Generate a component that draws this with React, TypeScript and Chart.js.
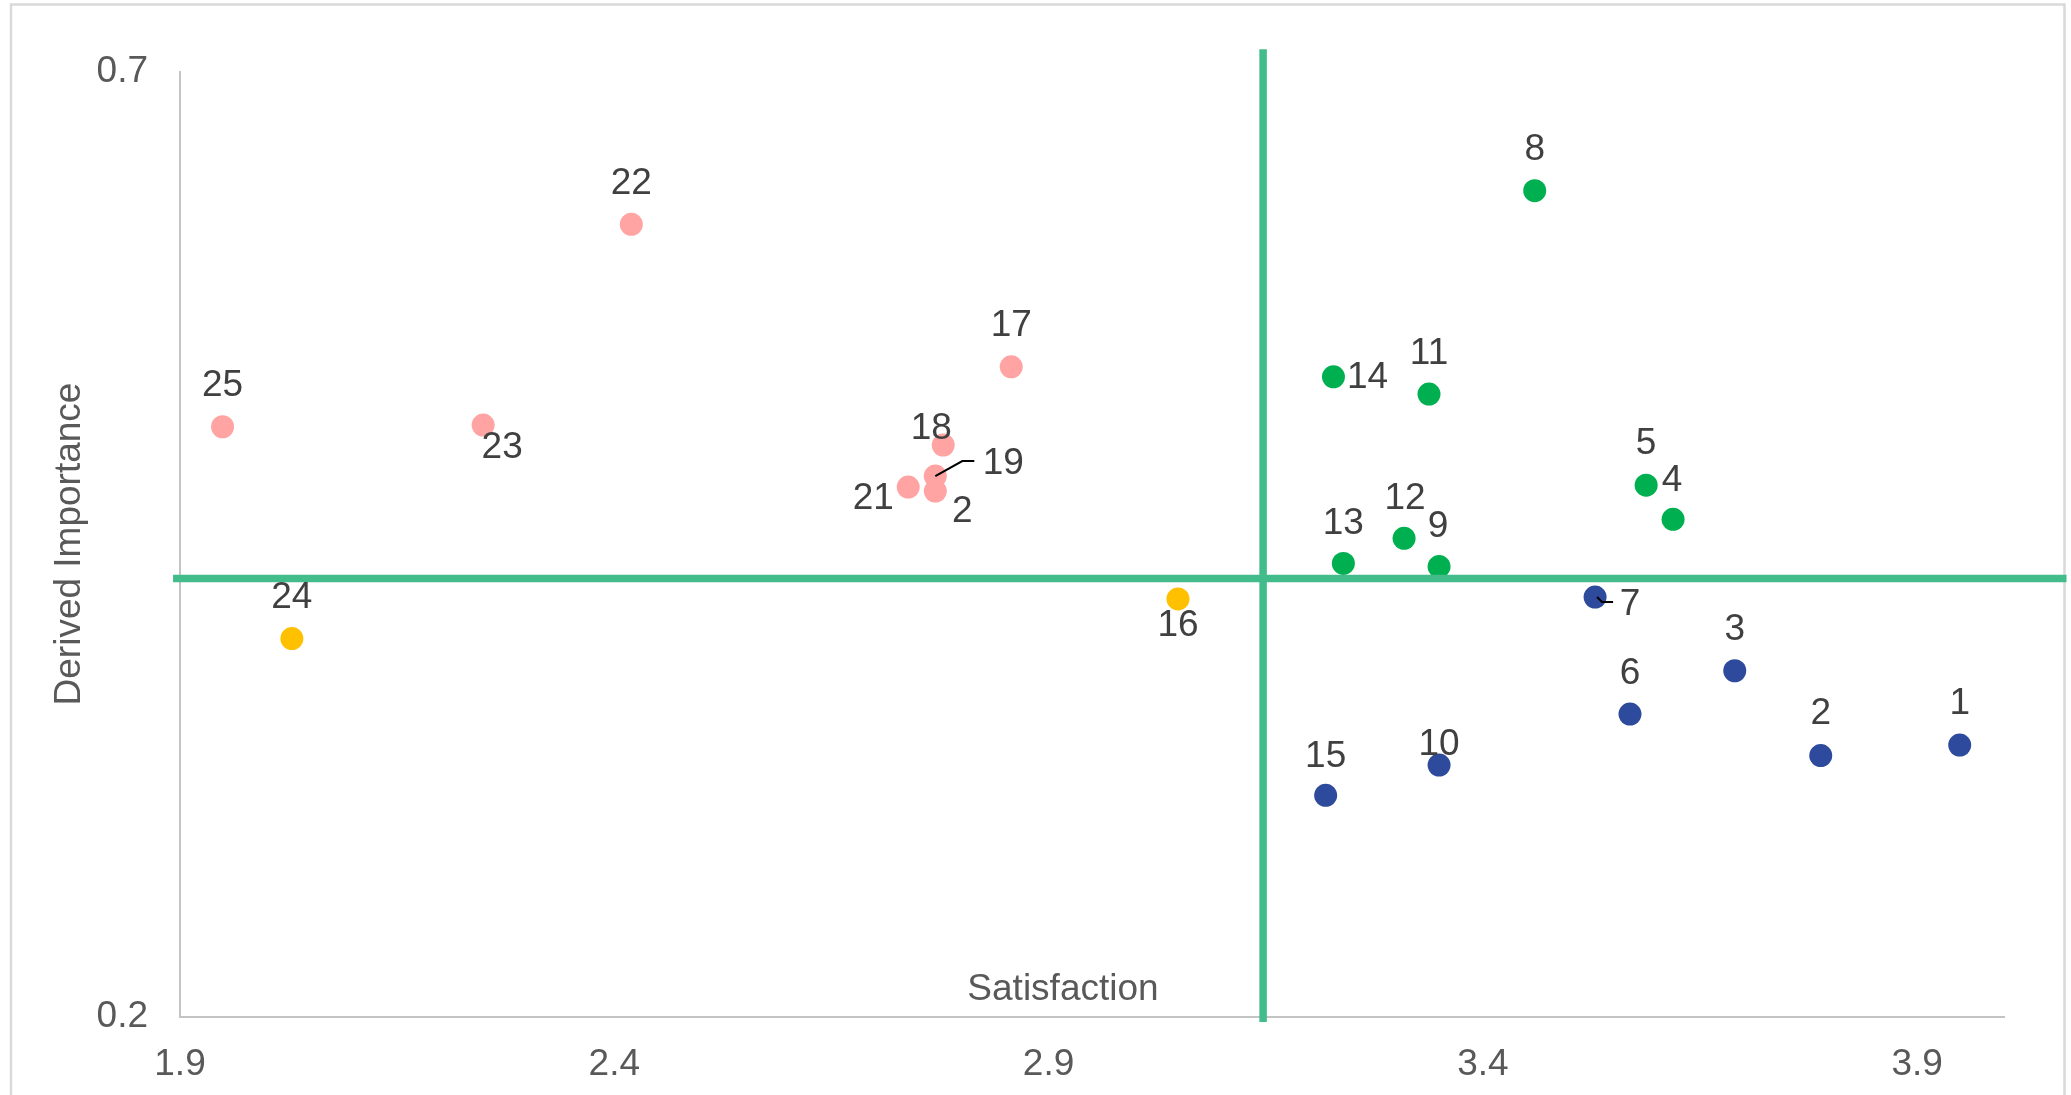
import React, { useEffect, useRef } from 'react';
import { Chart, registerables } from 'chart.js';

Chart.register(...registerables);

// ---------- data ----------
const X_TICKS = [1.9, 2.4, 2.9, 3.4, 3.9];
const Y_TICKS = [0.2, 0.7];
const X_MIN = 1.9;
const X_MAX = 4.0;
const Y_MIN = 0.2;
const Y_MAX = 0.7;

const X_TITLE = 'Satisfaction';
const Y_TITLE = 'Derived Importance';

// pink (low satisfaction, high importance)
const PINK_LABELS = ['22', '17', '25', '23', '18', '19', '2', '21'];
const PINK_X = [2.4196, 2.857, 1.949, 2.249, 2.7787, 2.7696, 2.7696, 2.7384];
const PINK_Y = [0.6194, 0.544, 0.5123, 0.5132, 0.5026, 0.4862, 0.4783, 0.4804];

// yellow (low satisfaction, low importance)
const YELLOW_LABELS = ['24', '16'];
const YELLOW_X = [2.0288, 3.049];
const YELLOW_Y = [0.4002, 0.4212];

// green (high satisfaction, high importance)
const GREEN_LABELS = ['8', '14', '11', '5', '4', '12', '13', '9'];
const GREEN_X = [3.4597, 3.228, 3.338, 3.588, 3.619, 3.3093, 3.2394, 3.3496];
const GREEN_Y = [0.6372, 0.5387, 0.5296, 0.4814, 0.4633, 0.4533, 0.44, 0.4383];

// blue (high satisfaction, low importance)
const BLUE_LABELS = ['7', '3', '6', '2', '1', '10', '15'];
const BLUE_X = [3.5292, 3.69, 3.5694, 3.789, 3.949, 3.3496, 3.219];
const BLUE_Y = [0.4222, 0.3832, 0.3603, 0.3383, 0.3439, 0.3333, 0.3173];

// quadrant dividers
const SAT_THRESHOLD = 3.147;
const IMP_THRESHOLD = 0.432;
const V_LINE_Y = [0.712, 0.1974];
const H_LINE_X = [1.892, 4.072];

// ---------- styles ----------
const FONT = '"Liberation Sans", Arial, sans-serif';
const COLORS = {
  pink: '#FFA3A3',
  yellow: '#FFC000',
  green: '#00B050',
  blue: '#2E4A9C',
  divider: '#43BC8C',
};

// label offsets (px) relative to point centre
const PINK_OFFS = [[0, -41], [0, -41], [0, -41], [19, 23], [-12, -16], [68, -12], [27, 21], [-35, 12]];
const YELLOW_OFFS = [[0, -41], [0, 27]];
const GREEN_OFFS = [[0, -41], [34, 1], [0, -40], [0, -41], [-1, -39], [1, -39], [0, -40], [-1, -40]];
const BLUE_OFFS = [[35, 8], [0, -41], [0, -40], [0, -42], [0, -41], [0, -20], [0, -39]];

// leader lines: [datasetIndex, pointIndex, path]
const LEADERS: [number, number, number[][]][] = [
  [2, 5, [[0, 0], [27, -15], [39, -15]]],
  [5, 0, [[2, 0], [7, 5], [18, 5]]],
];

const toPts = (xs: number[], ys: number[]) => xs.map((x, i) => ({ x, y: ys[i] }));

const decorPlugin = {
  id: 'decor',
  beforeDraw(chart: any) {
    const ctx = chart.ctx;
    ctx.save();
    ctx.fillStyle = '#FFFFFF';
    ctx.fillRect(0, 0, chart.width, chart.height);
    ctx.strokeStyle = '#D9D9D9';
    ctx.lineWidth = 2.5;
    ctx.strokeRect(11, 4.5, 2053.5, 1200);
    ctx.restore();
  },
  afterDatasetsDraw(chart: any) {
    const ctx = chart.ctx;
    ctx.save();
    ctx.font = `37px ${FONT}`;
    ctx.fillStyle = '#404040';
    ctx.textAlign = 'center';
    ctx.textBaseline = 'middle';
    chart.data.datasets.forEach((ds: any, i: number) => {
      if (!ds.pointLabels) return;
      const meta = chart.getDatasetMeta(i);
      meta.data.forEach((pt: any, j: number) => {
        const o = ds.labelOffsets[j];
        ctx.fillText(ds.pointLabels[j], pt.x + o[0], pt.y + o[1]);
      });
    });
    ctx.strokeStyle = '#000000';
    ctx.lineWidth = 2;
    LEADERS.forEach(([di, pi, path]) => {
      const pt = chart.getDatasetMeta(di).data[pi];
      ctx.beginPath();
      path.forEach(([dx, dy], k) => {
        if (k === 0) ctx.moveTo(pt.x + dx, pt.y + dy);
        else ctx.lineTo(pt.x + dx, pt.y + dy);
      });
      ctx.stroke();
    });
    ctx.restore();
  },
  afterDraw(chart: any) {
    const ctx = chart.ctx;
    ctx.save();
    ctx.font = `37px ${FONT}`;
    ctx.fillStyle = '#595959';
    ctx.textAlign = 'center';
    ctx.textBaseline = 'middle';
    ctx.fillText(X_TITLE, 1063, 990);
    ctx.translate(70, 544);
    ctx.rotate(-Math.PI / 2);
    ctx.fillText(Y_TITLE, 0, 0);
    ctx.restore();
  },
};

export default function App() {
  const ref = useRef<HTMLCanvasElement>(null);
  useEffect(() => {
    document.body.style.margin = '0';
    const lineDs = (data: any[]) => ({
      data,
      showLine: true,
      borderColor: COLORS.divider,
      backgroundColor: COLORS.divider,
      borderWidth: 7.5,
      pointRadius: 0,
      clip: false as any,
      borderCapStyle: 'butt',
    });
    const ptDs = (xs: number[], ys: number[], labels: string[], offs: number[][], color: string) => ({
      data: toPts(xs, ys),
      backgroundColor: color,
      borderColor: color,
      borderWidth: 0,
      pointRadius: 11.5,
      clip: false as any,
      pointLabels: labels,
      labelOffsets: offs,
    });
    const chart = new Chart(ref.current!, {
      type: 'scatter',
      data: {
        datasets: [
          lineDs([{ x: SAT_THRESHOLD, y: V_LINE_Y[0] }, { x: SAT_THRESHOLD, y: V_LINE_Y[1] }]),
          lineDs([{ x: H_LINE_X[0], y: IMP_THRESHOLD }, { x: H_LINE_X[1], y: IMP_THRESHOLD }]),
          ptDs(PINK_X, PINK_Y, PINK_LABELS, PINK_OFFS, COLORS.pink),
          ptDs(YELLOW_X, YELLOW_Y, YELLOW_LABELS, YELLOW_OFFS, COLORS.yellow),
          ptDs(GREEN_X, GREEN_Y, GREEN_LABELS, GREEN_OFFS, COLORS.green),
          ptDs(BLUE_X, BLUE_Y, BLUE_LABELS, BLUE_OFFS, COLORS.blue),
        ] as any,
      },
      options: {
        animation: false,
        responsive: false,
        devicePixelRatio: 1,
        events: [],
        layout: { padding: { top: 72, right: 67, left: 0, bottom: 0 } },
        plugins: { legend: { display: false }, tooltip: { enabled: false } },
        scales: {
          x: {
            type: 'linear',
            min: X_MIN,
            max: X_MAX,
            grid: { display: false, drawTicks: false },
            border: { display: true, color: '#C4C4C4', width: 2 },
            ticks: { font: { family: FONT, size: 37 }, color: '#595959', padding: 26 },
            afterBuildTicks: (s: any) => { s.ticks = X_TICKS.map((v) => ({ value: v })); },
            afterFit: (s: any) => { s.height = 78; },
          },
          y: {
            type: 'linear',
            min: Y_MIN,
            max: Y_MAX,
            grid: { display: false, drawTicks: false },
            border: { display: true, color: '#C4C4C4', width: 2 },
            ticks: { font: { family: FONT, size: 37 }, color: '#595959', padding: 32 },
            afterBuildTicks: (s: any) => { s.ticks = Y_TICKS.map((v) => ({ value: v })); },
            afterFit: (s: any) => { s.width = 180; },
          },
        },
      } as any,
      plugins: [decorPlugin],
    });
    return () => chart.destroy();
  }, []);
  return (
    <div style={{ position: 'absolute', left: 0, top: 0 }}>
      <canvas ref={ref} width={2071} height={1095} style={{ display: 'block', width: 2071, height: 1095 }} />
    </div>
  );
}
